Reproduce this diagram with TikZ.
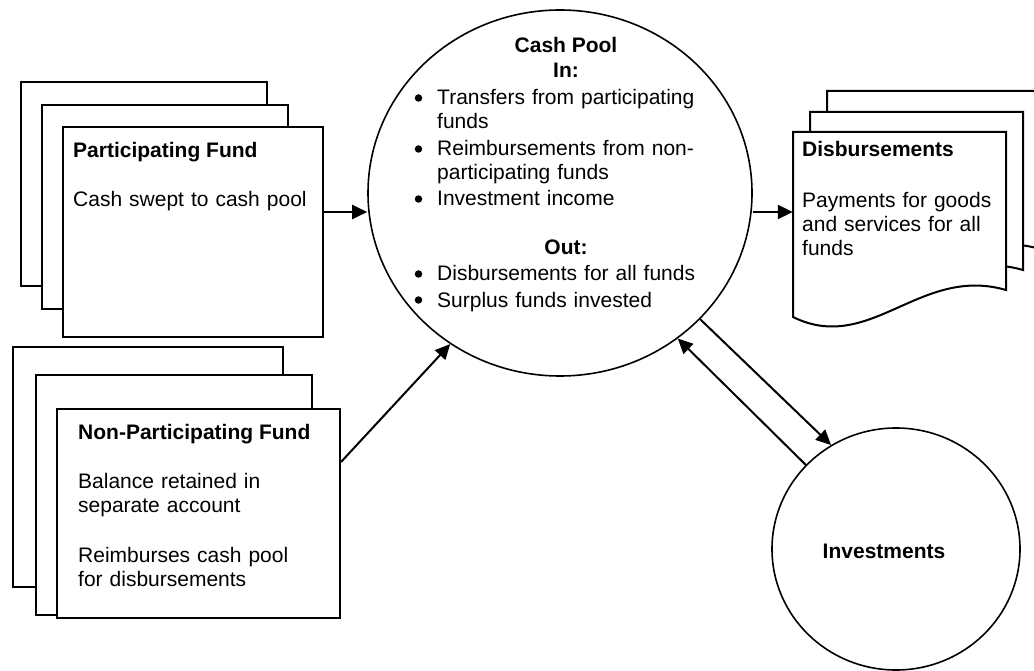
\documentclass[tikz,border=0pt]{standalone}
\usepackage{fontspec}
\setmainfont{Liberation Sans}
\usetikzlibrary{arrows.meta,shapes.geometric}
\begin{document}
\begin{tikzpicture}[x=1pt,y=-1pt,
  box/.style={draw, rectangle, line width=2pt, fill=white, inner sep=0pt},
  oval/.style={draw, ellipse, line width=1.6pt, inner sep=0pt},
  doc/.style={draw, line width=2pt, fill=white},
  arr/.style={-{Triangle[length=15pt,width=14pt]}, line width=2pt},
  txt/.style={anchor=base west, inner sep=0pt, text width=330pt, align=left, font=\fontsize{21}{24}\selectfont},
  hd/.style={anchor=base west, inner sep=0pt, font=\fontsize{21}{24}\selectfont\bfseries},
  ctr/.style={anchor=base, inner sep=0pt, font=\fontsize{21}{24}\selectfont\bfseries},
  dot/.style={circle, fill, inner sep=0pt, minimum size=7.5pt}]
\useasboundingbox (0,0) rectangle (1034,671);

% Participating fund stack
\node[box, minimum width=246, minimum height=204] (pfA) at (144,184) {};
\node[box, minimum width=246, minimum height=204] (pfB) at (165,207) {};
\node[box, minimum width=260, minimum height=210] (pf) at (193,232) {};
\node[hd] (pfh) at (73,158) {Participating Fund};
\node[txt] (pft) at (73,207) {Cash swept to cash pool};

% Non-participating fund stack
\node[box, minimum width=270, minimum height=240] (npA) at (148,467) {};
\node[box, minimum width=276, minimum height=240] (npB) at (174,495) {};
\node[box, minimum width=283, minimum height=209] (np) at (198.5,513.5) {};
\node[hd] (nph) at (78,439) {Non-Participating Fund};
\node[txt] (npt1) at (78,488) {Balance retained in\\separate account};
\node[txt] (npt2) at (78,562) {Reimburses cash pool\\for disbursements};

% Disbursements document stack
\draw[doc] (827,91) -- (1040,91) -- (1040,249) .. controls (954,224) and (904,314) .. (827,276) -- cycle;
\draw[doc] (810,112) -- (1023,112) -- (1023,270) .. controls (937,245) and (887,335) .. (810,297) -- cycle;
\draw[doc] (793,132) -- (1006,132) -- (1006,290) .. controls (920,265) and (870,355) .. (793,317) -- cycle;
\node[minimum width=213, minimum height=185, inner sep=0pt] (disb) at (899.5,224.5) {};
\node[hd] (dh) at (802,157) {Disbursements};
\node[txt] (dt) at (802,208) {Payments for goods\\and services for all\\funds};

% Cash pool
\node[oval, minimum width=384, minimum height=366] (cp) at (560,193) {};
\node[ctr] (cph) at (566,53) {Cash Pool};
\node[ctr] (cpin) at (566,78) {In:};
\node[dot] (b1) at (418.5,98) {};
\node[txt] (c1) at (437,105) {Transfers from participating\\funds};
\node[dot] (b2) at (418.5,149) {};
\node[txt] (c2) at (437,156) {Reimbursements from non-\\participating funds};
\node[dot] (b3) at (418.5,199) {};
\node[txt] (c3) at (437,206) {Investment income};
\node[ctr] (cpout) at (566,255) {Out:};
\node[dot] (b4) at (418.5,274) {};
\node[txt] (c4) at (437,281) {Disbursements for all funds};
\node[dot] (b5) at (418.5,300) {};
\node[txt] (c5) at (437,307) {Surplus funds invested};

% Investments
\node[oval, minimum width=248, minimum height=242] (inv) at (896,549) {};
\node[ctr] (invt) at (884,558) {Investments};

% Connectors
\coordinate (y212) at (0,212);
\coordinate (y462) at (0,462);
\draw[arr] (pf.east |- y212) -- (cp.west |- y212);
\draw[arr] (cp.east |- y212) -- (disb.west |- y212);
\draw[arr] (np.east |- y462) -- (cp.234);
\draw[arr] (cp.-42.6) -- (inv.122.1);
\draw[arr] (inv.137.3) -- (cp.-51.8);
\end{tikzpicture}
\end{document}
